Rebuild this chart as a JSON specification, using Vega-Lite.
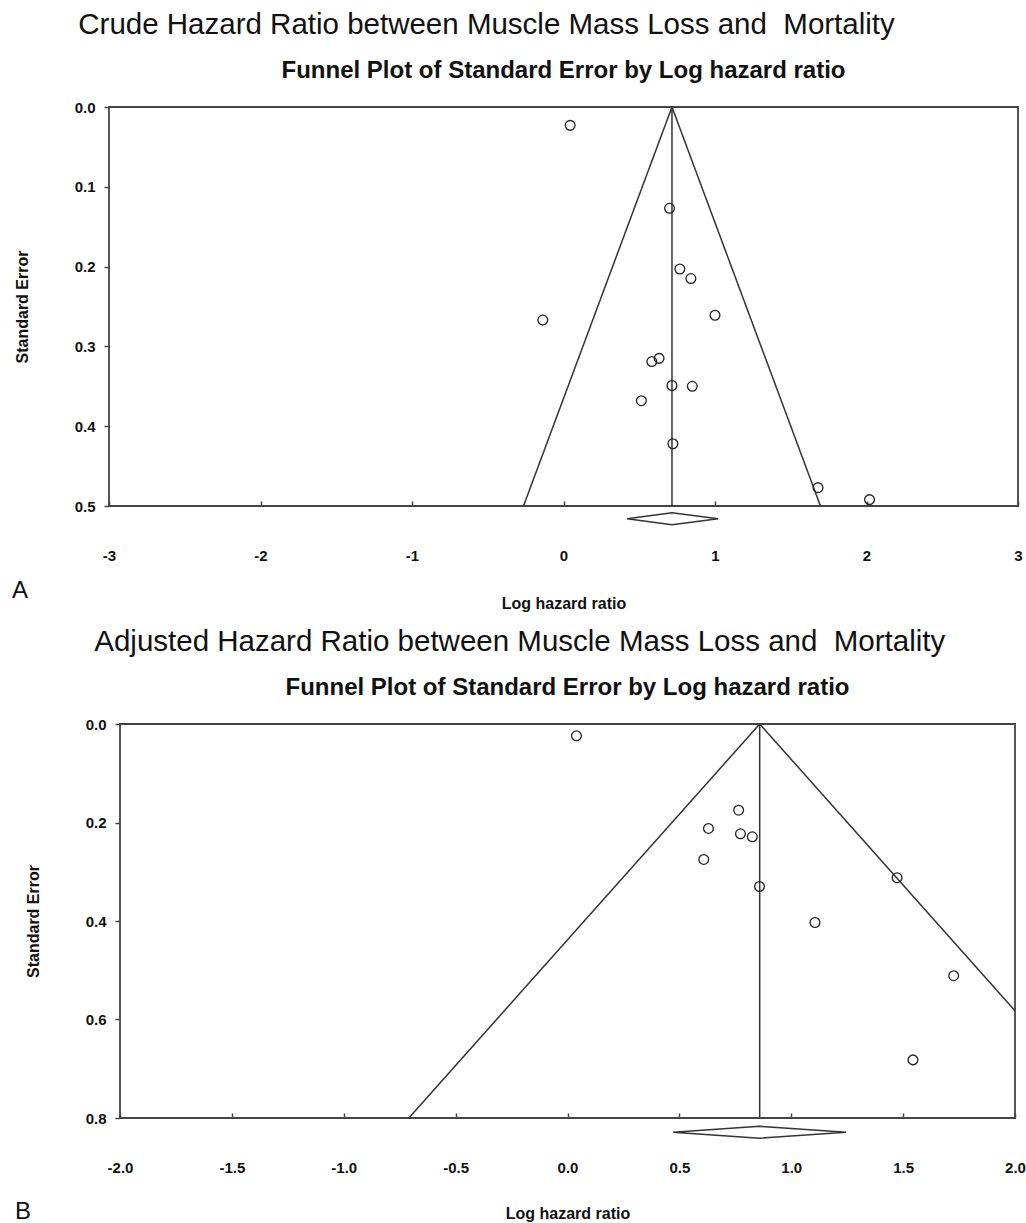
{
  "$schema": "https://vega.github.io/schema/vega-lite/v6.json",
  "background": "white",
  "padding": {"left": 12, "top": 9, "right": 5, "bottom": 0},
  "config": {
    "font": "Liberation Sans",
    "view": {"stroke": "#444", "strokeWidth": 1.8},
    "axis": {"grid": false, "domain": false, "labelFont": "Liberation Sans", "labelFontWeight": "bold", "labelFontSize": 15, "labelColor": "#111", "titleFont": "Liberation Sans", "titleFontSize": 16, "titleFontWeight": "bold", "titleColor": "#111", "tickColor": "#444", "tickWidth": 1.5},
    "title": {"color": "#111", "font": "Liberation Sans"}
  },
  "datasets": {
    "pointsA": [
      {"lhr": 0.044, "se": 0.023}, {"lhr": 0.70, "se": 0.127}, {"lhr": 0.768, "se": 0.203}, {"lhr": 0.841, "se": 0.215},
      {"lhr": -0.137, "se": 0.267}, {"lhr": 1.0, "se": 0.261}, {"lhr": 0.631, "se": 0.315}, {"lhr": 0.583, "se": 0.319},
      {"lhr": 0.716, "se": 0.349}, {"lhr": 0.85, "se": 0.350}, {"lhr": 0.514, "se": 0.368}, {"lhr": 0.722, "se": 0.422},
      {"lhr": 1.68, "se": 0.477}, {"lhr": 2.02, "se": 0.492}
    ],
    "funnelA": [
      {"part": "left", "ord": 0, "lhr": 0.716, "se": 0}, {"part": "left", "ord": 1, "lhr": -0.264, "se": 0.5},
      {"part": "right", "ord": 0, "lhr": 0.716, "se": 0}, {"part": "right", "ord": 1, "lhr": 1.696, "se": 0.5},
      {"part": "mid", "ord": 0, "lhr": 0.716, "se": 0}, {"part": "mid", "ord": 1, "lhr": 0.716, "se": 0.5}
    ],
    "diamondA": [
      {"ord": 0, "lhr": 0.42, "se": 0.516}, {"ord": 1, "lhr": 0.716, "se": 0.5085}, {"ord": 2, "lhr": 1.02, "se": 0.516},
      {"ord": 3, "lhr": 0.716, "se": 0.5235}, {"ord": 4, "lhr": 0.42, "se": 0.516}
    ],
    "pointsB": [
      {"lhr": 0.04, "se": 0.024}, {"lhr": 0.765, "se": 0.175}, {"lhr": 0.630, "se": 0.212}, {"lhr": 0.773, "se": 0.223},
      {"lhr": 0.826, "se": 0.229}, {"lhr": 0.609, "se": 0.275}, {"lhr": 0.858, "se": 0.330}, {"lhr": 1.473, "se": 0.312},
      {"lhr": 1.106, "se": 0.403}, {"lhr": 1.726, "se": 0.511}, {"lhr": 1.544, "se": 0.682}
    ],
    "funnelB": [
      {"part": "left", "ord": 0, "lhr": 0.859, "se": 0}, {"part": "left", "ord": 1, "lhr": -0.709, "se": 0.8},
      {"part": "right", "ord": 0, "lhr": 0.859, "se": 0}, {"part": "right", "ord": 1, "lhr": 2.0, "se": 0.582},
      {"part": "mid", "ord": 0, "lhr": 0.859, "se": 0}, {"part": "mid", "ord": 1, "lhr": 0.859, "se": 0.8}
    ],
    "diamondB": [
      {"ord": 0, "lhr": 0.472, "se": 0.829}, {"ord": 1, "lhr": 0.859, "se": 0.817}, {"ord": 2, "lhr": 1.245, "se": 0.829},
      {"ord": 3, "lhr": 0.859, "se": 0.841}, {"ord": 4, "lhr": 0.472, "se": 0.829}
    ],
    "empty": []
  },
  "concat": [
    {
      "title": {"text": "A", "orient": "bottom", "anchor": "start", "frame": "bounds", "fontSize": 24, "fontWeight": "normal", "offset": -33},
      "spacing": 0,
      "hconcat": [
        {"width": 1, "height": 1, "view": {"stroke": null, "fill": null}, "data": {"name": "empty"}, "mark": {"type": "point", "opacity": 0}},
        {
          "title": {"text": "Crude Hazard Ratio between Muscle Mass Loss and \u00a0Mortality", "anchor": "start", "frame": "bounds", "dx": 65, "fontSize": 29.5, "fontWeight": "normal", "offset": 18},
          "vconcat": [
            {
              "width": 909,
              "height": 399,
              "title": {"text": "Funnel Plot of Standard Error by Log hazard ratio", "anchor": "middle", "frame": "group", "fontSize": 24, "fontWeight": "bold", "offset": 17},
              "encoding": {
                "x": {"field": "lhr", "type": "quantitative", "scale": {"domain": [-3, 3], "nice": false, "zero": false},
                  "axis": {"title": "Log hazard ratio", "values": [-3, -2, -1, 0, 1, 2, 3], "format": "d", "labelExpr": "replace(datum.label, '−', '-')", "tickSize": -5, "labelPadding": 47, "titlePadding": 32, "labelFlush": false}},
                "y": {"field": "se", "type": "quantitative", "scale": {"domain": [0, 0.5], "reverse": true, "nice": false, "zero": false},
                  "axis": {"title": "Standard Error", "values": [0, 0.1, 0.2, 0.3, 0.4, 0.5], "format": ".1f", "tickSize": 5, "labelPadding": 9, "titlePadding": 44, "labelFlush": false}}
              },
              "layer": [
                {"data": {"name": "funnelA"}, "mark": {"type": "line", "stroke": "#333", "strokeWidth": 1.5}, "encoding": {"detail": {"field": "part"}, "order": {"field": "ord"}}},
                {"data": {"name": "diamondA"}, "mark": {"type": "line", "stroke": "#333", "strokeWidth": 1.5}, "encoding": {"order": {"field": "ord"}}},
                {"data": {"name": "pointsA"}, "mark": {"type": "point", "shape": "circle", "size": 95, "filled": false, "stroke": "#222", "strokeWidth": 1.3, "opacity": 1}}
              ]
            }
          ]
        }
      ]
    },
    {
      "title": {"text": "B", "orient": "bottom", "anchor": "start", "frame": "bounds", "fontSize": 24, "fontWeight": "normal", "offset": -22, "dx": 3},
      "spacing": 0,
      "hconcat": [
        {"width": 12, "height": 1, "view": {"stroke": null, "fill": null}, "data": {"name": "empty"}, "mark": {"type": "point", "opacity": 0}},
        {
          "title": {"text": "Adjusted Hazard Ratio between Muscle Mass Loss and \u00a0Mortality", "anchor": "start", "frame": "bounds", "dx": 70, "fontSize": 29.5, "fontWeight": "normal", "offset": 18},
          "vconcat": [
            {
              "width": 895,
              "height": 394,
              "title": {"text": "Funnel Plot of Standard Error by Log hazard ratio", "anchor": "middle", "frame": "group", "fontSize": 24, "fontWeight": "bold", "offset": 17},
              "encoding": {
                "x": {"field": "lhr", "type": "quantitative", "scale": {"domain": [-2, 2], "nice": false, "zero": false},
                  "axis": {"title": "Log hazard ratio", "values": [-2, -1.5, -1, -0.5, 0, 0.5, 1, 1.5, 2], "format": ".1f", "labelExpr": "replace(datum.label, '−', '-')", "tickSize": -5, "labelPadding": 47, "titlePadding": 30, "labelFlush": false}},
                "y": {"field": "se", "type": "quantitative", "scale": {"domain": [0, 0.8], "reverse": true, "nice": false, "zero": false},
                  "axis": {"title": "Standard Error", "values": [0, 0.2, 0.4, 0.6, 0.8], "format": ".1f", "tickSize": 5, "labelPadding": 9, "titlePadding": 44, "labelFlush": false}}
              },
              "layer": [
                {"data": {"name": "funnelB"}, "mark": {"type": "line", "stroke": "#333", "strokeWidth": 1.5}, "encoding": {"detail": {"field": "part"}, "order": {"field": "ord"}}},
                {"data": {"name": "diamondB"}, "mark": {"type": "line", "stroke": "#333", "strokeWidth": 1.5}, "encoding": {"order": {"field": "ord"}}},
                {"data": {"name": "pointsB"}, "mark": {"type": "point", "shape": "circle", "size": 95, "filled": false, "stroke": "#222", "strokeWidth": 1.3, "opacity": 1}}
              ]
            }
          ]
        }
      ]
    }
  ],
  "columns": 1,
  "spacing": 14
}
